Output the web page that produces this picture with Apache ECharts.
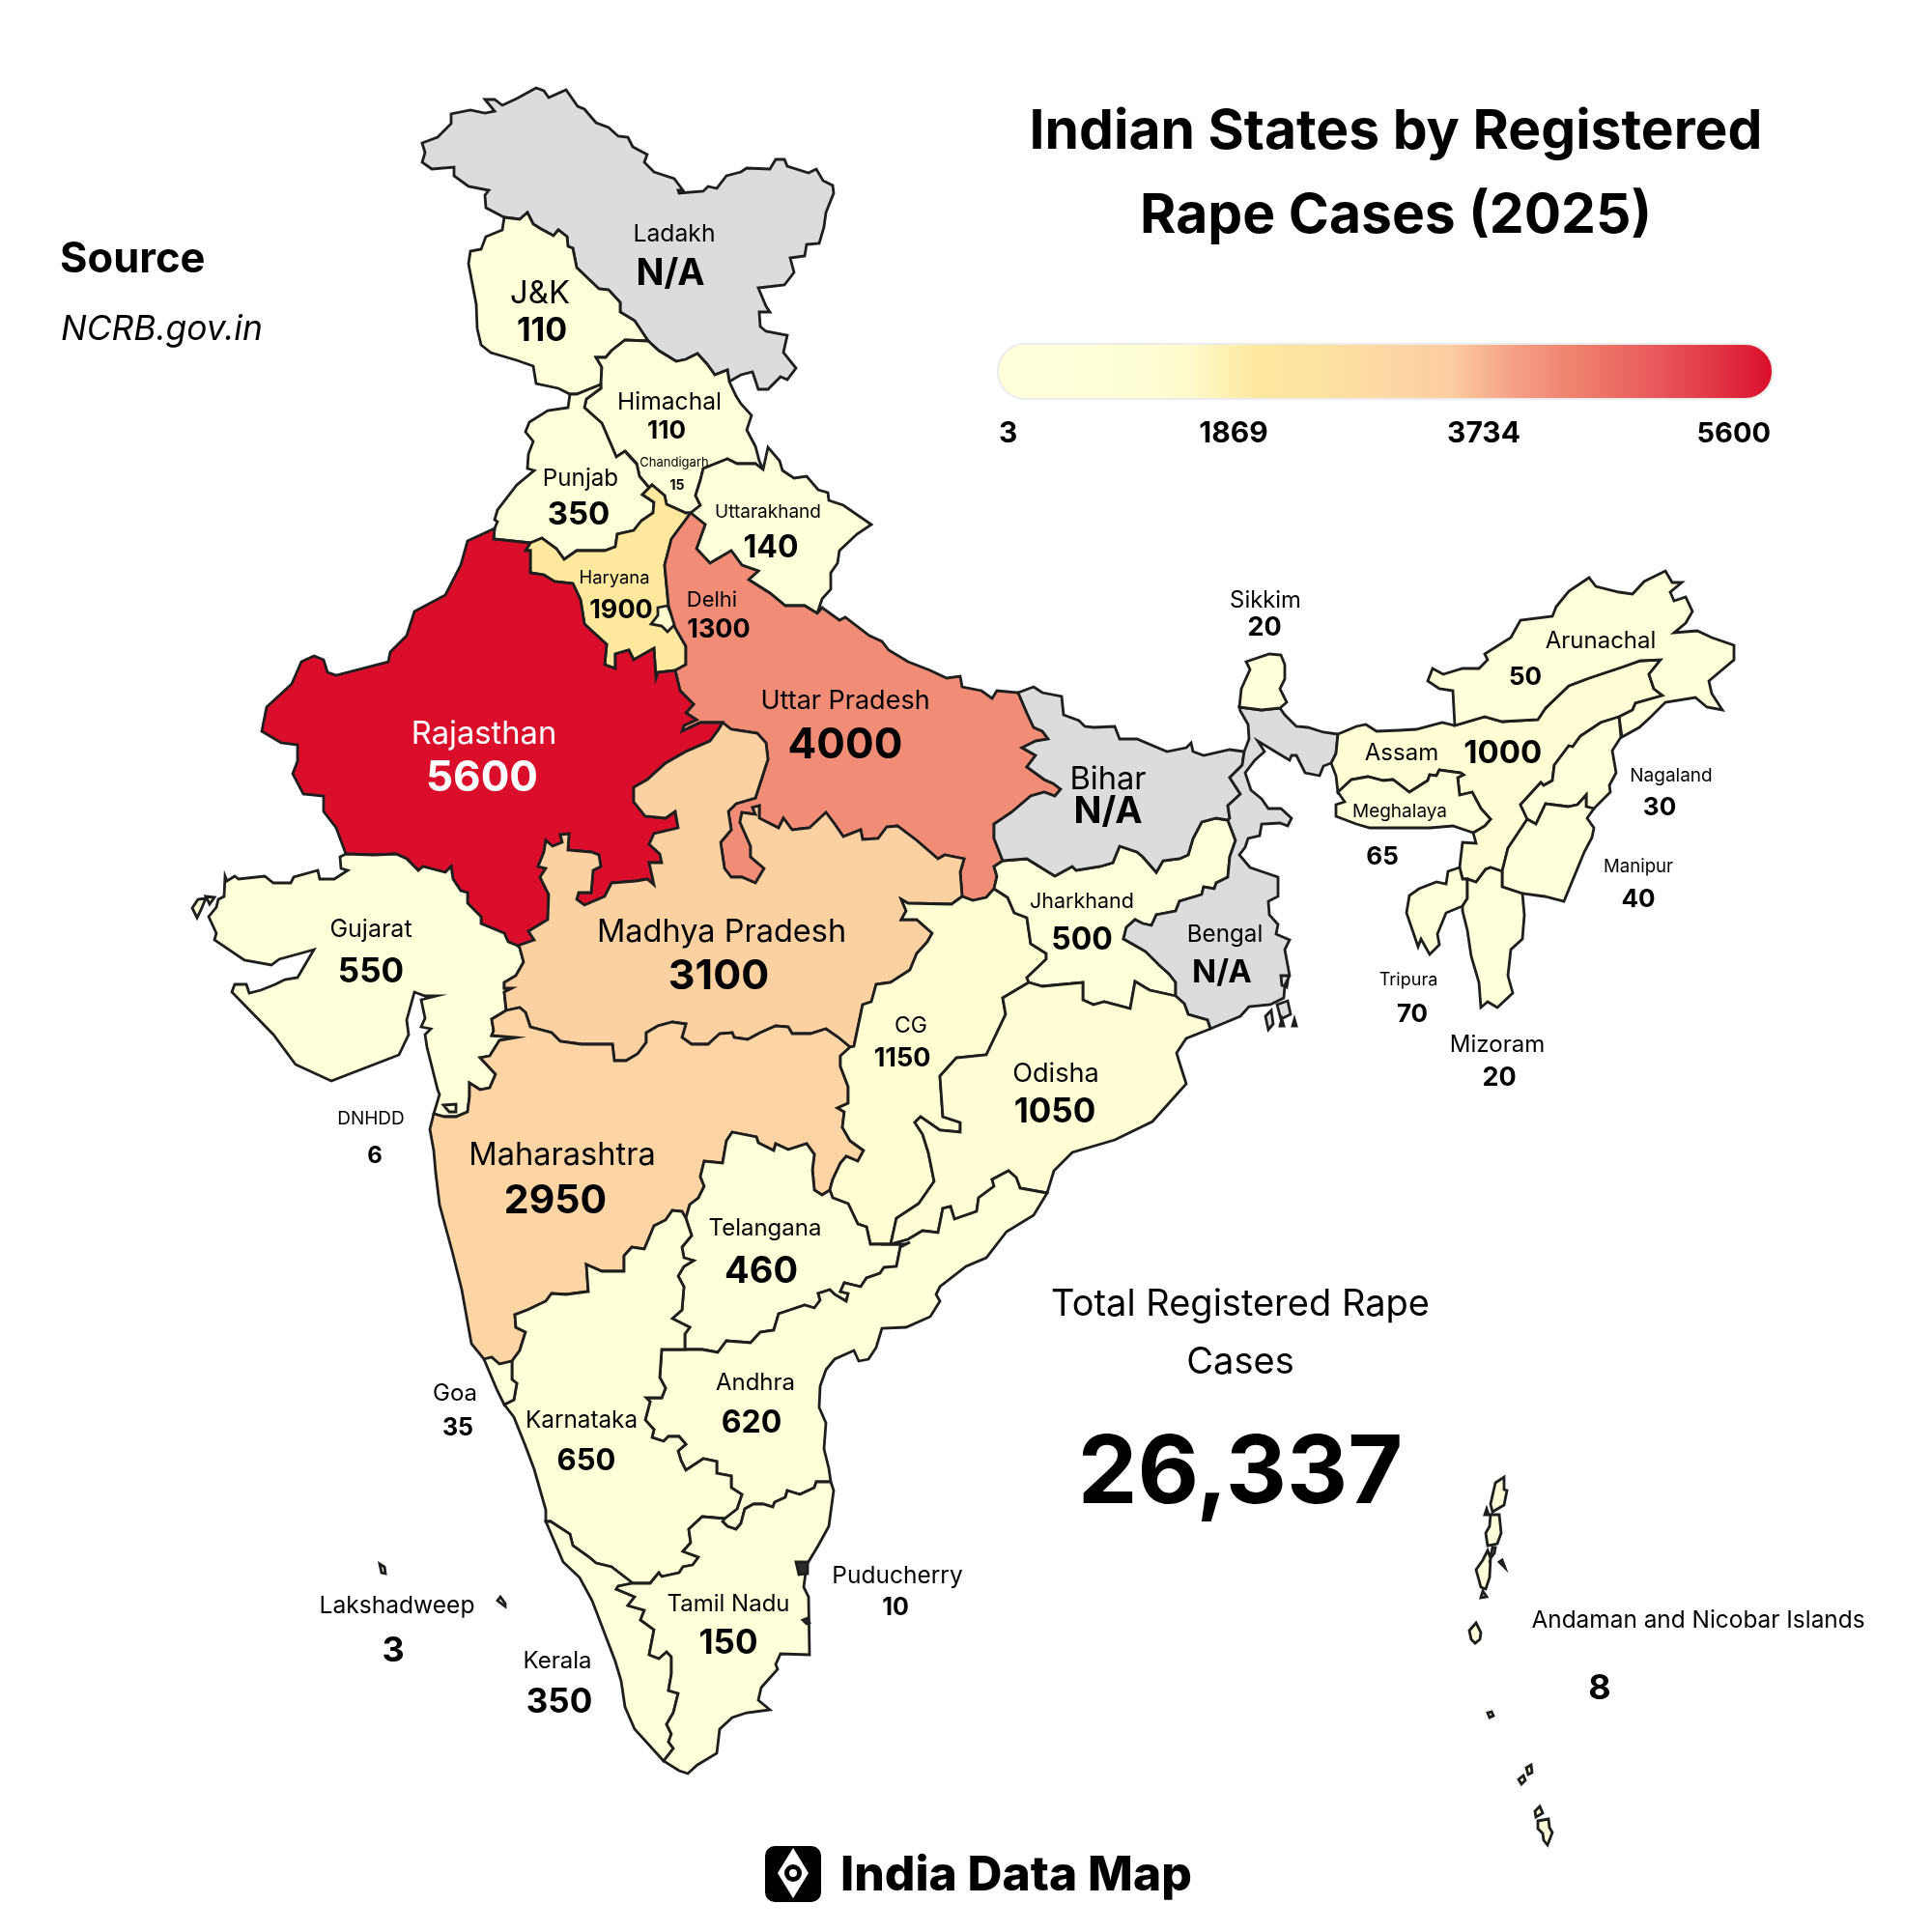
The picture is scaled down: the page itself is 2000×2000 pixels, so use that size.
<!DOCTYPE html>
<html>
<head>
<meta charset="utf-8">
<title>Indian States by Registered Rape Cases (2025)</title>
<script src="https://cdn.jsdelivr.net/npm/echarts@6/dist/echarts.min.js"></script>
<style>
  html, body { margin: 0; padding: 0; background: #fff; }
  #chart { width: 2000px; height: 2000px; }
</style>
</head>
<body>
<div id="chart"></div>
<script>
// values, null = N/A
var stateNames = ['Ladakh','J&K','Himachal','Punjab','Haryana','Delhi','Uttarakhand','Uttar Pradesh','Rajasthan','Gujarat',
  'Madhya Pradesh','Maharashtra','CG','Jharkhand','Bihar','Bengal','Odisha','Telangana','Andhra','Karnataka','Goa','Kerala',
  'Tamil Nadu','Puducherry','Sikkim','Assam','Arunachal','Meghalaya','Nagaland','Manipur','Tripura','Mizoram','DNHDD',
  'Lakshadweep','Andaman and Nicobar Islands','Chandigarh'];
var stateValues = [null,110,110,350,1900,1300,140,4000,5600,550,
  3100,2950,1150,500,null,null,1050,460,620,650,35,350,
  150,10,20,1000,50,65,30,40,70,20,6,
  3,8,15];
var tickLabels = ['3','1869','3734','5600'];
var scaleMin = 3, scaleMax = 5600;
var rampColors = ['#ffffd9','#ffffd9','#ffffd7','#fefacb','#fde89e','#fde2a0','#fdd8a4','#fccda0','#f5a085','#ee7f6b','#ea5f5f','#e23a47','#da0e2b'];
var titleText = 'Indian States by Registered\nRape Cases (2025)';
var totalText = '26,337';

var FONT = 'Inter, "Noto Sans", sans-serif';

// traced borders, page pixels. each shared border is written once, '-' means walk it backwards
var arcs = {
  ladakhOuter:[[522,225],[503,215],[502,202],[506,197],[485,193],[470,182],[470,173],[447,175],[437,168],[440,158],[437,148],[453,142],[467,128],[467,118],[487,114],[502,117],[512,115],[502,103],[512,103],[520,109],[535,102],[555,91],[563,94],[568,101],[586,93],[598,110],[605,113],[617,127],[630,132],[640,141],[650,142],[655,152],[670,160],[667,168],[677,178],[698,185],[707,197],[702,197],[703,200],[728,198],[733,193],[742,195],[752,182],[767,178],[773,174],[797,175],[803,165],[812,165],[815,172],[837,179],[845,175],[852,187],[862,192],[863,200],[855,220],[853,235],[848,252],[835,253],[833,265],[818,267],[822,282],[812,295],[785,298],[793,317],[797,323],[786,323],[787,338],[793,343],[815,347],[811,365],[824,381],[815,393],[808,390],[795,403],[785,403],[779,385],[767,388],[755,395]],
  ladakhHim:[[755,395],[753,383],[740,388],[732,377],[722,366],[710,372],[700,374],[682,363],[671,353]],
  ladakhJk:[[671,353],[657,332],[642,323],[642,313],[630,300],[620,299],[597,277],[593,257],[588,255],[587,245],[578,238],[573,244],[560,237],[552,232],[546,220],[538,227],[522,225]],
  jkHim:[[671,353],[647,352],[633,363],[627,370],[617,370],[623,380],[622,398]],
  jkPun:[[622,398],[597,408],[590,408]],
  jkOuter:[[590,408],[578,402],[555,397],[552,379],[535,373],[508,365],[498,357],[494,340],[493,315],[485,273],[487,260],[498,258],[503,245],[520,238],[522,225]],
  himPun:[[622,398],[622,402],[607,413],[605,422],[623,438],[638,473],[647,467],[659,480],[662,493],[672,505]],
  himHar:[[672,505],[675,502],[688,513],[690,522],[710,531],[715,531]],
  himUk:[[715,531],[725,523],[720,513],[725,497],[728,485],[753,475],[763,480],[782,480],[790,486]],
  himOuter:[[790,486],[786,477],[782,462],[773,445],[778,430],[767,418],[762,410],[755,395]],
  punOuter:[[590,408],[588,422],[567,425],[548,437],[544,447],[552,457],[547,470],[546,485],[553,487],[535,502],[515,528],[512,538],[515,540],[512,547]],
  rajPun:[[512,547],[511,558],[549,562]],
  punHar:[[549,562],[561,557],[576,568],[584,579],[597,570],[626,570],[637,566],[639,553],[656,549],[664,539],[676,531],[677,520],[665,512],[672,505]],
  harUp:[[715,531],[695,558],[688,585],[692,627],[699,650],[710,669],[710,688],[699,694]],
  harRaj:[[699,694],[681,696],[679,702],[677,671],[656,683],[651,673],[637,677],[637,692],[626,688],[628,667],[605,646],[601,621],[593,604],[574,602],[563,595],[549,593],[549,570],[544,570],[549,562]],
  ukOuter:[[790,486],[795,463],[807,477],[810,487],[822,495],[835,493],[847,507],[857,510],[858,518],[873,523],[902,543],[887,553],[869,570],[867,583],[860,593],[860,610],[851,620],[846,635]],
  ukUp:[[846,635],[833,627],[813,627],[797,614],[775,600],[785,591],[768,585],[757,570],[735,583],[721,568],[730,543],[715,531]],
  upOuter:[[846,635],[851,629],[869,642],[875,639],[900,658],[913,664],[920,673],[940,685],[963,694],[980,702],[994,700],[996,711],[1016,715],[1027,723],[1032,715],[1054,717]],
  upBihar:[[1054,717],[1063,738],[1070,753],[1079,757],[1085,765],[1072,767],[1058,774],[1072,782],[1063,794],[1081,807],[1090,811],[1098,817],[1092,824],[1081,820],[1067,824],[1047,841],[1029,853],[1029,868],[1038,891]],
  upJh:[[1038,891],[1029,897],[1032,907],[1029,920]],
  upCg:[[1029,920],[1021,929],[1007,932],[996,928]],
  upMp:[[996,928],[994,903],[998,889],[978,885],[971,889],[949,870],[929,855],[918,856],[909,868],[893,869],[891,859],[873,866],[864,853],[855,841],[838,857],[820,859],[811,847],[806,857],[786,847],[786,834],[779,836],[782,843],[768,841],[766,851],[777,876],[777,887],[791,899],[782,914],[768,908],[757,908],[750,899],[746,872],[757,859],[754,840],[762,832],[782,826],[795,786],[793,769],[784,759],[757,755],[748,748]],
  rajUp:[[748,748],[725,748],[706,757],[708,751],[721,745],[710,738],[718,729],[704,715],[699,694]],
  rajOuter:[[512,547],[484,560],[477,585],[461,616],[429,633],[421,658],[404,675],[402,685],[348,699],[339,696],[335,683],[325,679],[312,685],[302,708],[276,732],[271,757],[291,769],[308,771],[308,788],[303,801],[314,822],[335,824],[335,840],[348,857],[358,884]],
  rajGuj:[[358,884],[387,885],[410,884],[421,889],[433,901],[438,897],[461,903],[467,897],[469,910],[477,922],[484,924],[484,935],[498,949],[498,956],[522,966],[526,975],[536,979]],
  rajMp:[[536,979],[553,973],[547,964],[567,952],[568,926],[559,908],[565,899],[557,897],[563,882],[565,870],[572,876],[582,872],[580,864],[589,863],[588,880],[612,882],[620,885],[622,897],[614,901],[612,924],[599,924],[597,931],[605,937],[626,928],[633,914],[658,912],[670,910],[677,916],[672,893],[685,893],[683,884],[672,874],[677,863],[702,857],[699,840],[689,847],[668,845],[656,830],[656,815],[670,807],[689,790],[710,778],[735,767],[744,755],[748,748]],
  gujOuter:[[358,884],[352,887],[353,899],[360,901],[346,910],[331,910],[329,901],[304,908],[301,914],[283,914],[274,907],[247,910],[243,907],[235,912],[233,907],[232,928],[226,931],[224,939],[216,949],[224,966],[222,973],[253,994],[281,999],[289,993],[318,985],[325,983],[308,1012],[295,1014],[285,1019],[270,1025],[258,1028],[255,1019],[243,1019],[240,1027],[283,1071],[306,1102],[343,1119],[413,1092],[423,1071],[421,1056],[429,1027],[440,1031],[452,1031],[436,1035],[440,1054],[436,1063],[446,1065],[440,1071],[442,1084],[447,1104],[453,1128],[455,1133],[449,1153]],
  mpGuj:[[536,979],[538,981],[542,996],[534,1010],[522,1017],[522,1023],[530,1023],[522,1027],[524,1046]],
  gujMaha:[[524,1046],[509,1055],[511,1067],[509,1072],[534,1074],[517,1077],[507,1093],[497,1095],[513,1112],[507,1126],[497,1128],[486,1121],[486,1135],[484,1151],[472,1156],[460,1156],[449,1153]],
  mpCg:[[996,928],[985,936],[940,935],[933,931],[938,943],[933,952],[949,952],[965,966],[960,975],[949,987],[942,1004],[922,1017],[907,1019],[902,1037],[893,1040],[884,1083],[880,1084]],
  mpMaha:[[880,1084],[868,1074],[855,1065],[839,1070],[820,1070],[816,1063],[803,1062],[787,1069],[774,1076],[760,1074],[758,1069],[745,1070],[733,1081],[716,1081],[706,1074],[710,1060],[696,1058],[681,1062],[669,1069],[669,1079],[660,1091],[648,1098],[636,1098],[634,1081],[602,1081],[580,1078],[571,1069],[549,1063],[544,1048],[538,1043],[524,1046]],
  mahaCoast:[[449,1153],[445,1169],[449,1191],[451,1214],[455,1247],[468,1295],[478,1335],[488,1391],[501,1407]],
  mahaGoa:[[501,1407],[509,1405],[517,1412],[530,1409]],
  mahaKar:[[530,1409],[538,1398],[544,1379],[534,1374],[533,1361],[546,1356],[565,1347],[571,1339],[586,1340],[609,1337],[607,1309],[623,1316],[646,1316],[646,1300],[654,1291],[667,1293],[677,1269],[689,1263],[696,1253],[706,1254],[710,1261]],
  mahaTel:[[710,1261],[714,1247],[723,1240],[729,1228],[725,1218],[729,1202],[748,1204],[752,1181],[758,1172],[783,1177],[785,1183],[801,1191],[803,1184],[816,1190],[835,1184],[843,1195],[841,1211],[843,1232],[851,1237],[859,1232]],
  mahaCg:[[859,1232],[862,1221],[870,1204],[876,1197],[888,1202],[894,1191],[880,1181],[872,1167],[874,1151],[867,1147],[878,1142],[878,1125],[870,1104],[870,1093],[880,1084]],
  telCg:[[859,1232],[862,1240],[878,1246],[888,1267],[897,1270],[901,1288],[922,1288]],
  cgOd:[[922,1288],[928,1261],[951,1246],[967,1223],[961,1193],[955,1174],[947,1162],[953,1156],[973,1170],[994,1172],[994,1162],[976,1156],[973,1114],[990,1095],[1021,1092],[1041,1050],[1038,1033],[1065,1017]],
  cgJh:[[1065,1017],[1063,1012],[1083,993],[1083,987],[1067,977],[1063,950],[1050,945],[1043,929],[1029,920]],
  jhOd:[[1065,1017],[1079,1021],[1121,1017],[1121,1035],[1132,1040],[1143,1037],[1170,1044],[1175,1016],[1190,1025],[1217,1031]],
  jhBeng:[[1271,849],[1279,870],[1273,887],[1271,908],[1259,914],[1257,920],[1246,918],[1244,926],[1221,933],[1217,943],[1197,947],[1192,958],[1183,956],[1175,952],[1166,960],[1163,972],[1172,977],[1186,985],[1201,1000],[1210,1008],[1217,1017],[1217,1031]],
  bihJh:[[1038,891],[1063,889],[1076,897],[1092,907],[1110,897],[1114,901],[1139,897],[1152,893],[1159,876],[1177,882],[1183,887],[1197,903],[1204,891],[1221,889],[1230,885],[1235,868],[1244,851],[1259,847],[1271,849]],
  bihOuter:[[1054,717],[1070,711],[1079,717],[1099,721],[1101,740],[1117,746],[1123,752],[1132,753],[1154,752],[1159,765],[1177,765],[1208,778],[1228,774],[1233,769],[1235,778],[1246,782],[1273,776],[1288,778]],
  bihBeng:[[1288,778],[1286,792],[1273,805],[1284,822],[1271,834],[1273,847],[1271,849]],
  bengNorthLeft:[[1288,778],[1293,765],[1292,750],[1284,736],[1283,732]],
  sikBeng:[[1283,732],[1306,735],[1325,733]],
  sikOuter:[[1325,733],[1332,727],[1325,713],[1330,703],[1330,688],[1326,678],[1314,677],[1290,685],[1294,693],[1285,713],[1283,732]],
  bengNorthRight:[[1325,733],[1330,740],[1342,752],[1354,753],[1370,758],[1385,760]],
  bengAssam:[[1385,760],[1383,780],[1378,790]],
  bengEast:[[1378,790],[1370,793],[1366,803],[1351,800],[1342,782],[1337,782],[1335,787],[1320,778],[1302,767],[1309,778],[1299,787],[1289,800],[1295,818],[1306,827],[1313,837],[1326,837],[1337,847],[1333,855],[1325,852],[1306,853],[1304,865],[1292,868],[1289,877],[1283,885],[1294,898],[1323,908],[1323,928],[1313,933],[1314,947],[1323,957],[1321,967],[1335,973],[1330,983],[1335,1010],[1330,1020],[1329,1033],[1315,1040],[1293,1042],[1284,1052],[1253,1065]],
  odBeng:[[1217,1031],[1226,1039],[1230,1050],[1250,1056],[1253,1065]],
  odCoast:[[1253,1065],[1228,1075],[1218,1090],[1221,1100],[1228,1122],[1193,1161],[1154,1180],[1110,1193],[1091,1212],[1084,1235]],
  odAnd:[[1084,1235],[1056,1230],[1052,1219],[1044,1212],[1027,1221],[1029,1228],[1013,1240],[1011,1254],[988,1262],[984,1249],[976,1251],[971,1276],[955,1274],[940,1283],[922,1288]],
  andCoast:[[1084,1235],[1070,1258],[1042,1275],[1021,1302],[1000,1311],[973,1332],[969,1340],[973,1347],[963,1363],[938,1374],[913,1375],[907,1395],[899,1407],[889,1409],[884,1398],[864,1407],[855,1418],[849,1435],[848,1457],[855,1473],[853,1500],[858,1520],[860,1534]],
  telAnd:[[922,1288],[936,1288],[942,1286],[932,1291],[928,1311],[915,1312],[911,1318],[897,1323],[891,1332],[874,1328],[870,1337],[878,1339],[876,1347],[864,1340],[859,1335],[847,1339],[849,1346],[843,1354],[833,1351],[806,1360],[801,1377],[787,1379],[777,1390],[752,1388],[743,1400],[727,1397],[709,1397]],
  telKar:[[710,1261],[716,1279],[706,1291],[708,1302],[718,1305],[708,1311],[702,1321],[708,1332],[706,1356],[696,1365],[714,1374],[709,1381],[709,1397]],
  andKar:[[709,1397],[685,1397],[683,1426],[689,1437],[685,1447],[669,1447],[673,1451],[668,1470],[677,1480],[675,1488],[687,1492],[692,1487],[703,1487],[710,1495],[702,1502],[705,1512],[710,1522],[728,1510],[742,1513],[742,1525],[757,1528],[757,1540],[768,1547],[763,1562],[750,1572]],
  andTn:[[750,1572],[748,1575],[753,1580],[762,1583],[767,1577],[771,1562],[780,1557],[790,1557],[800,1560],[802,1555],[813,1550],[815,1543],[828,1547],[843,1540],[845,1534],[860,1534]],
  karTn:[[750,1572],[727,1570],[713,1583],[715,1597],[707,1606],[723,1612],[717,1620],[707,1622],[703,1628],[685,1632],[682,1628],[673,1639],[655,1639]],
  karKer:[[655,1639],[650,1635],[633,1622],[617,1618],[610,1612],[593,1600],[590,1588],[570,1575],[565,1575]],
  goaKar:[[530,1409],[530,1428],[535,1432],[532,1449],[522,1454]],
  goaCoast:[[522,1454],[515,1440],[501,1407]],
  karCoast:[[522,1454],[532,1467],[544,1497],[553,1521],[565,1563],[565,1575]],
  kerCoast:[[565,1575],[583,1617],[600,1633],[613,1657],[637,1720],[643,1740],[647,1767],[657,1790],[687,1823]],
  kerTn:[[655,1639],[640,1642],[638,1645],[657,1653],[650,1662],[667,1667],[663,1677],[677,1687],[672,1713],[682,1717],[690,1710],[695,1715],[695,1733],[692,1750],[702,1753],[697,1773],[690,1785],[695,1795],[692,1803],[697,1810],[687,1823]],
  tnCoast:[[860,1534],[863,1543],[858,1580],[847,1600],[835,1620],[832,1643],[837,1653],[838,1713],[808,1712],[803,1723],[805,1728],[788,1747],[785,1760],[797,1770],[773,1773],[758,1778],[745,1790],[742,1815],[722,1827],[712,1836],[703,1833],[687,1823]],
  assTop:[[1385,760],[1404,752],[1414,750],[1425,757],[1449,756],[1466,755],[1493,748],[1506,751]],
  assAru:[[1506,751],[1537,742],[1555,747],[1592,745],[1600,733],[1624,710],[1645,702],[1681,690],[1698,684],[1719,683],[1707,698],[1712,713],[1721,720],[1693,728],[1690,735],[1676,742]],
  aruOuter:[[1506,751],[1504,715],[1490,713],[1478,705],[1483,692],[1494,698],[1514,692],[1531,692],[1540,683],[1537,677],[1564,660],[1574,642],[1607,638],[1611,628],[1624,612],[1645,598],[1652,607],[1676,613],[1690,615],[1702,602],[1724,591],[1731,603],[1741,603],[1729,613],[1733,622],[1745,618],[1752,633],[1745,645],[1733,655],[1757,653],[1772,660],[1795,668],[1795,683],[1769,705],[1772,718],[1783,735],[1767,732],[1755,722],[1724,727],[1709,742],[1697,753],[1679,763],[1676,742]],
  nagAss:[[1581,848],[1574,833],[1595,810],[1598,813],[1607,808],[1609,792],[1624,772],[1628,773],[1636,762],[1657,748],[1676,742]],
  nagOuter:[[1676,742],[1678,763],[1669,777],[1673,800],[1666,813],[1667,820],[1650,837]],
  nagMan:[[1650,837],[1642,835],[1642,823],[1633,833],[1623,835],[1600,832],[1590,853],[1581,848]],
  manOuter:[[1650,837],[1643,847],[1650,857],[1648,867],[1640,882],[1619,933],[1599,928],[1576,925]],
  manMiz:[[1576,925],[1555,918],[1555,902]],
  manAss:[[1555,902],[1561,878],[1581,848]],
  mizAss:[[1555,902],[1543,898],[1538,900],[1528,913],[1519,910]],
  mizTri:[[1519,910],[1519,930],[1514,938]],
  mizOuter:[[1514,938],[1514,943],[1519,963],[1523,990],[1531,1017],[1533,1043],[1540,1037],[1550,1043],[1566,1028],[1561,1010],[1564,983],[1576,972],[1578,947],[1576,925]],
  triAss:[[1519,910],[1514,910],[1511,898]],
  triOuter:[[1514,938],[1497,945],[1488,967],[1490,978],[1480,988],[1471,972],[1468,980],[1456,945],[1459,927],[1469,920],[1487,913],[1497,915],[1499,902],[1511,898]],
  assSouth:[[1511,898],[1514,872],[1528,873],[1525,862]],
  megTop:[[1385,820],[1399,807],[1416,804],[1432,808],[1442,807],[1459,820],[1478,808],[1480,802],[1487,803],[1490,797],[1512,800],[1515,802],[1509,805],[1511,823],[1524,820],[1533,837],[1543,848],[1537,855],[1525,862]],
  megBot:[[1525,862],[1504,855],[1480,857],[1418,857],[1404,853],[1383,845],[1383,833],[1392,830],[1385,820]],
  assWest:[[1385,820],[1383,803],[1378,790]]
};

// each state: its outer ring as arcs, then any extra islands as plain rings
var stateRings = {
  'Ladakh':['ladakhOuter','ladakhHim','ladakhJk'],
  'J&K':['-ladakhJk','jkHim','jkPun','jkOuter'],
  'Himachal':['ladakhHim','jkHim','himPun','himHar','himUk','himOuter'],
  'Punjab':['jkPun','punOuter','rajPun','punHar','-himPun'],
  'Haryana':['himHar','harUp','harRaj','punHar'],
  'Uttarakhand':['ukOuter','ukUp','himUk'],
  'Uttar Pradesh':['-ukUp','upOuter','upBihar','upJh','upCg','upMp','rajUp','-harUp'],
  'Rajasthan':['rajOuter','rajGuj','rajMp','rajUp','harRaj','-rajPun'],
  'Gujarat':['gujOuter','-gujMaha','-mpGuj','-rajGuj'],
  'Madhya Pradesh':['rajMp','-upMp','mpCg','mpMaha','-mpGuj'],
  'Maharashtra':['gujMaha','mahaCoast','mahaGoa','mahaKar','mahaTel','mahaCg','mpMaha'],
  'CG':['-upCg','-cgJh','-cgOd','-telCg','mahaCg','-mpCg'],
  'Jharkhand':['bihJh','jhBeng','-jhOd','cgJh','-upJh'],
  'Bihar':['bihOuter','bihBeng','-bihJh','-upBihar'],
  'Bengal':['-bihBeng','bengNorthLeft','sikBeng','bengNorthRight','bengAssam','bengEast','-odBeng','-jhBeng'],
  'Odisha':['cgOd','jhOd','odBeng','odCoast','odAnd'],
  'Telangana':['mahaTel','telCg','telAnd','-telKar'],
  'Andhra':['-odAnd','andCoast','-andTn','-andKar','-telAnd'],
  'Karnataka':['telKar','andKar','karTn','karKer','-karCoast','-goaKar','mahaKar'],
  'Goa':['mahaGoa','goaKar','goaCoast'],
  'Kerala':['-karKer','kerTn','-kerCoast'],
  'Tamil Nadu':['-karTn','andTn','tnCoast','-kerTn'],
  'Sikkim':['sikOuter','sikBeng'],
  'Assam':['assTop','assAru','-nagAss','-manAss','mizAss','triAss','assSouth','-megTop','assWest','-bengAssam'],
  'Arunachal':['aruOuter','-assAru'],
  'Meghalaya':['megTop','megBot'],
  'Nagaland':['nagAss','nagOuter','nagMan'],
  'Manipur':['nagMan','-manAss','-manMiz','-manOuter'],
  'Tripura':['-triAss','mizTri','triOuter'],
  'Mizoram':['mizOuter','manMiz','mizAss','mizTri']
};
var plainRings = {
  'Delhi':[[[681,629],[691,627],[699,646],[691,654],[685,648],[674,646],[681,637]]],
  'Chandigarh':[[[647,467],[659,480],[653,474]]],
  'Puducherry':[[[824,1617],[836,1617],[836,1629],[827,1630]],[[831,1677],[836,1675],[838,1680],[835,1681]]],
  'DNHDD':[[[459,1144],[472,1143],[472,1151],[465,1151]]],
  'Lakshadweep':[[[515,1657],[518,1653],[523,1660],[523,1663]],[[393,1619],[398,1622],[399,1629],[395,1628]]],
  'Andaman and Nicobar Islands':[
    [[1548,1535],[1557,1529],[1557,1542],[1560,1543],[1557,1558],[1545,1565],[1543,1557]],
    [[1543,1568],[1552,1568],[1554,1587],[1550,1598],[1540,1600],[1538,1587],[1542,1580]],
    [[1540,1605],[1543,1613],[1542,1633],[1538,1645],[1533,1643],[1530,1632],[1528,1625],[1535,1615]],
    [[1545,1602],[1548,1602],[1547,1608],[1543,1613]],
    [[1533,1654],[1535,1647],[1539,1653]],
    [[1528,1680],[1533,1690],[1532,1697],[1527,1701],[1523,1697],[1521,1688]],
    [[1537,1568],[1539,1562],[1541,1568]],
    [[1552,1617],[1555,1615],[1558,1623]],
    [[1540,1773],[1544,1772],[1546,1776],[1542,1778]],
    [[1572,1842],[1577,1838],[1579,1843],[1575,1847]],
    [[1580,1830],[1585,1827],[1586,1835],[1582,1837]],
    [[1589,1875],[1594,1870],[1597,1877],[1590,1881]],
    [[1592,1885],[1603,1883],[1604,1892],[1607,1897],[1602,1910],[1598,1905],[1597,1898],[1592,1893]]
  ]
};
var extraIslands = {
  'Gujarat':[[[199,940],[205,931],[213,930],[208,942],[204,950]],[[213,928],[222,929],[217,936]]],
  'Bengal':[[[1310,1052],[1316,1046],[1318,1060],[1313,1066]],[[1322,1040],[1333,1036],[1336,1050],[1326,1055]],[[1325,1062],[1329,1062],[1327,1055]],[[1338,1062],[1342,1062],[1340,1055]],[[1326,1010],[1334,1010],[1332,1022],[1327,1020]]]
};

// name centre x,y / value centre x,y / name size / value size
var labelLayout = {
  'Ladakh':[698,241,694,282,24.7,38],'J&K':[559,302,561,341,32.8,34],'Himachal':[693,415,690,444,24.6,26],
  'Chandigarh':[698,477,701,501,13,14],'Punjab':[601,494,599,531,24.2,33],'Uttarakhand':[795,528,798,565,19,32],
  'Haryana':[636,596,643,630,18.4,27],'Delhi':[737,619,744,650,22,27],'Rajasthan':[501,758,499,804,32.7,44],
  'Uttar Pradesh':[875,724,875,770,27,44],'Bihar':[1147,805,1147,839,32.6,38],'Madhya Pradesh':[747,963,744,1009,32.5,43],
  'Gujarat':[384,960,384,1004,25,35],'Jharkhand':[1120,932,1120,971,21.5,32],'Bengal':[1268,966,1265,1005,24.2,33],
  'CG':[943,1060,934,1094,23,27],'Odisha':[1093,1110,1092,1149,27.2,35],'Maharashtra':[582,1194,575,1242,32.6,41],
  'Telangana':[792,1270,788,1315,24,38],'Andhra':[782,1430,778,1471,24,32],'Karnataka':[602,1469,607,1511,24.3,31],
  'Goa':[471,1441,474,1476,24,25],'Tamil Nadu':[754,1659,754,1699,24,35],'Puducherry':[929,1630,927,1662,24.5,25],
  'Kerala':[577,1718,579,1760,24,35],'Lakshadweep':[411,1661,407,1707,24.6,36],
  'Andaman and Nicobar Islands':[1758,1676,1656,1746,24.4,36],'Sikkim':[1310,620,1309,648,23.8,27],
  'Arunachal':[1657,662,1579,699,24,26],'Assam':[1452,779,1554,779,24,33],'Meghalaya':[1449,838,1431,885,19,26],
  'Nagaland':[1730,801,1718,834,19,26],'Manipur':[1696,895,1696,929,18.6,26],'Tripura':[1458,1013,1462,1048,18,26],
  'Mizoram':[1550,1080,1552,1114,24,27],'DNHDD':[384,1156,388,1195,19,24]
};

function walkArcs(list) {
  var ring = [];
  list.forEach(function(key) {
    var back = key.charAt(0) == '-';
    var pts = arcs[back ? key.substr(1) : key].slice();
    if (back) pts.reverse();
    ring = ring.concat(ring.length ? pts.slice(1) : pts);
  });
  return ring;
}

function labelCentre(name) {
  var l = labelLayout[name];
  if (name == 'Assam') return [(l[0] + l[2]) / 2 + 1.5, l[1] + 1];
  return [l[0], (l[1] + l[3]) / 2 + 2];
}

var features = stateNames.map(function(name) {
  var rings = [];
  if (stateRings[name]) rings.push(walkArcs(stateRings[name]));
  rings = rings.concat(plainRings[name] || [], extraIslands[name] || []);
  return {
    type: 'Feature',
    properties: { name: name, cp: labelCentre(name) },
    geometry: { type: 'MultiPolygon', coordinates: rings.map(function(r) { return [r]; }) }
  };
});

echarts.registerMap('india', { type: 'FeatureCollection', features: features });

var seriesData = stateNames.map(function(name, i) {
  var l = labelLayout[name];
  var value = stateValues[i];
  var shown = value === null ? 'N/A' : String(value);
  var colour = value === 5600 ? '#fff' : '#000';
  var gap = l[3] - l[1];
  var dx = l[2] - l[0];
  var valuePad = dx >= 0 ? [0, 0, 0, 2 * dx] : [0, -2 * dx, 0, 0];
  var formatter = '{n|' + name + '}\n{v|' + shown + '}';
  if (name == 'Assam') {
    formatter = '{n|' + name + '}{v|' + shown + '}';
    valuePad = [0, 0, 0, 26];
    gap = 40;
  }
  var item = {
    name: name,
    value: value === null ? NaN : value,
    label: {
      show: true,
      formatter: formatter,
      rich: {
        n: { fontFamily: FONT, fontSize: l[4], color: colour, lineHeight: gap, align: 'center' },
        v: { fontFamily: FONT, fontSize: l[5], fontWeight: 700, color: colour, lineHeight: gap, align: 'center', padding: valuePad }
      }
    }
  };
  if (value === null) item.itemStyle = { areaColor: '#dcdcdc' };
  // the two tiny Puducherry pieces read as solid dark specks in the reference
  if (name == 'Puducherry') { item.visualMap = false; item.itemStyle = { color: '#2b2b2b', areaColor: '#2b2b2b' }; }
  return item;
});

var legendStops = rampColors.map(function(c, i) {
  return { offset: i / (rampColors.length - 1), color: c };
});

function textEl(str, x, y, size, weight, align, italic) {
  return {
    type: 'text', x: x, y: y, silent: true,
    style: {
      text: str, fontFamily: FONT, fontSize: size, fontWeight: weight,
      fontStyle: italic ? 'italic' : 'normal', fill: '#000',
      textAlign: align, textVerticalAlign: 'middle'
    }
  };
}

var graphics = [
  // legend bar
  { type: 'rect', silent: true, shape: { x: 1033, y: 356, width: 802, height: 57, r: 28 },
    style: { fill: new echarts.graphic.LinearGradient(0, 0, 1, 0, legendStops), stroke: '#ececec', lineWidth: 2 } },
  textEl(tickLabels[0], 1034, 449, 30, 700, 'left'),
  textEl(tickLabels[1], 1277, 449, 30, 700, 'center'),
  textEl(tickLabels[2], 1536, 449, 30, 700, 'center'),
  textEl(tickLabels[3], 1833, 449, 29, 700, 'right'),
  // source
  textEl('Source', 62, 268.5, 43.5, 700, 'left'),
  textEl('NCRB.gov.in', 63, 341.5, 35.4, 400, 'left', true),
  // total
  textEl('Total Registered Rape', 1284, 1350.5, 38, 400, 'center'),
  textEl('Cases', 1284, 1410.5, 38, 400, 'center'),
  textEl(totalText, 1284, 1527, 98, 700, 'center'),
  // logo
  { type: 'rect', silent: true, shape: { x: 792, y: 1911, width: 58, height: 58, r: 10 }, style: { fill: '#000' } },
  { type: 'polygon', silent: true, shape: { points: [[821, 1913], [837, 1939], [821, 1965], [805, 1939]] }, style: { fill: '#fff' } },
  { type: 'circle', silent: true, shape: { cx: 821, cy: 1939, r: 9 }, style: { fill: '#000' } },
  { type: 'circle', silent: true, shape: { cx: 821, cy: 1939, r: 4 }, style: { fill: '#fff' } },
  textEl('India Data Map', 870, 1942, 49.7, 800, 'left')
];

var chart = echarts.init(document.getElementById('chart'));
chart.setOption({
  animation: false,
  backgroundColor: '#fff',
  title: {
    text: titleText,
    left: 1440, top: 88,
    textAlign: 'center',
    textStyle: { fontFamily: FONT, fontSize: 57, fontWeight: 700, color: '#000', lineHeight: 87 }
  },
  visualMap: {
    show: false, type: 'continuous', seriesIndex: 0,
    min: scaleMin, max: scaleMax,
    inRange: { color: rampColors },
    outOfRange: { color: '#dcdcdc' }
  },
  series: [{
    name: 'Registered rape cases',
    type: 'map',
    map: 'india',
    silent: true,
    projection: {
      project: function(p) { return p; },
      unproject: function(p) { return p; }
    },
    boundingCoords: [[0, 0], [2000, 2000]],
    left: 0, top: 0, width: 2000, height: 2000,
    itemStyle: { areaColor: '#dcdcdc', borderColor: '#1e1e1e', borderWidth: 2.8 },
    label: { show: true },
    data: seriesData
  }],
  graphic: { elements: graphics }
});
</script>
</body>
</html>
